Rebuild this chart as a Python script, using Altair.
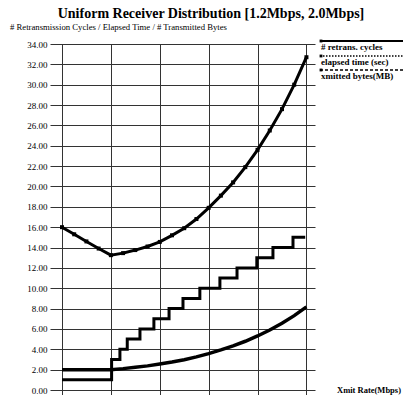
import altair as alt
import pandas as pd

# ---- data ----
rate_steps = [1.0, 1.203, 1.237, 1.267, 1.319, 1.376, 1.438, 1.495, 1.564,
              1.646, 1.716, 1.797, 1.863, 1.945, 1.995]
retrans_cycles = [1, 3, 4, 5, 6, 7, 8, 9, 10, 11, 12, 13, 14, 15, 15]

rate = [1.00, 1.05, 1.10, 1.15, 1.20, 1.25, 1.30, 1.35, 1.40, 1.45, 1.50,
        1.55, 1.60, 1.65, 1.70, 1.75, 1.80, 1.85, 1.90, 1.95, 2.00]
elapsed_sec = [16.0, 15.3, 14.6, 13.9, 13.25, 13.45, 13.75, 14.1, 14.55, 15.2,
               15.9, 16.8, 17.9, 19.1, 20.4, 21.9, 23.6, 25.5, 27.6, 30.0, 32.7]
xmitted_mb = [2.0, 2.0, 2.0, 2.0, 2.0, 2.1, 2.23, 2.37, 2.55, 2.75, 2.98,
              3.25, 3.58, 3.94, 4.34, 4.79, 5.31, 5.9, 6.56, 7.31, 8.17]

x_ticks = [1.0, 1.2, 1.4, 1.6, 1.8, 2.0]
y_ticks = [0, 2, 4, 6, 8, 10, 12, 14, 16, 18, 20, 22, 24, 26, 28, 30, 32, 34]

legend_labels = ["# retrans. cycles", "elapsed time (sec)", "xmitted bytes(MB)"]
title_text = "Uniform Receiver Distribution [1.2Mbps, 2.0Mbps]"
y_title_text = "# Retransmission Cycles / Elapsed Time / # Transmitted Bytes"
x_title_text = "Xmit Rate(Mbps)"

FONT = "Liberation Serif"

steps_df = pd.DataFrame({"rate": rate_steps, "value": retrans_cycles})
elapsed_df = pd.DataFrame({"rate": rate, "value": elapsed_sec})
bytes_df = pd.DataFrame({"rate": rate, "value": xmitted_mb})


def xenc():
    return alt.X("rate:Q",
                 scale=alt.Scale(domain=[0.951, 2.035], nice=False, zero=False),
                 axis=alt.Axis(values=x_ticks, format=".2f", title=None, grid=True,
                               ticks=True, tickSize=5, domain=False, labelPadding=0,
                               labelFontSize=8))


def yenc():
    return alt.Y("value:Q",
                 scale=alt.Scale(domain=[0, 34], nice=False),
                 axis=alt.Axis(values=y_ticks, format=".2f", title=None, grid=True,
                               ticks=False, domain=False, labelPadding=3))


steps = alt.Chart(steps_df).mark_line(
    interpolate="step-after", color="black", strokeWidth=3
).encode(x=xenc(), y=yenc())

elapsed_line = alt.Chart(elapsed_df).mark_line(
    color="black", strokeWidth=3
).encode(x=xenc(), y=yenc())

elapsed_pts = alt.Chart(elapsed_df).mark_square(
    color="black", size=16, opacity=1
).encode(x=xenc(), y=yenc())

bytes_line = alt.Chart(bytes_df).mark_line(
    color="black", strokeWidth=3.5
).encode(x=xenc(), y=yenc())

layers = [steps, elapsed_line, elapsed_pts, bytes_line]

# ---- manual legend (line above label) ----
dashes = [[1, 0], [1.5, 1.5], [3, 2]]
widths = [2, 1.5, 1.3]
line_y = [-3, 12, 26]
text_y = [6, 20.5, 35]
for i, lab in enumerate(legend_labels):
    d = pd.DataFrame({"label": [lab]})
    layers.append(
        alt.Chart(d).mark_rule(color="black", strokeWidth=widths[i],
                               strokeDash=dashes[i]).encode(
            x=alt.value(270), x2=alt.value(365),
            y=alt.value(line_y[i]), y2=alt.value(line_y[i]))
    )
    layers.append(
        alt.Chart(d).mark_square(color="black", size=8, opacity=1).encode(
            x=alt.value(271), y=alt.value(line_y[i]))
    )
    layers.append(
        alt.Chart(d).mark_text(align="left", baseline="alphabetic", font=FONT,
                               fontSize=9, fontWeight="bold", color="black").encode(
            x=alt.value(271), y=alt.value(text_y[i]), text="label:N")
    )

# ---- titles as text ----
t_df = pd.DataFrame({"t": [title_text]})
layers.append(
    alt.Chart(t_df).mark_text(align="center", baseline="alphabetic", font=FONT,
                              fontSize=14, fontWeight="bold", color="black").encode(
        x=alt.value(161), y=alt.value(-26.5), text="t:N")
)
yt_df = pd.DataFrame({"t": [y_title_text]})
layers.append(
    alt.Chart(yt_df).mark_text(align="left", baseline="alphabetic", font=FONT,
                               fontSize=8.7, color="black").encode(
        x=alt.value(-40), y=alt.value(-14.5), text="t:N")
)
xt_df = pd.DataFrame({"t": [x_title_text]})
layers.append(
    alt.Chart(xt_df).mark_text(align="right", baseline="alphabetic", font=FONT,
                               fontSize=8.5, fontWeight="bold", color="black").encode(
        x=alt.value(351), y=alt.value(349), text="t:N")
)

chart = alt.layer(*layers).properties(
    width=265, height=346,
    padding={"left": 42, "top": 36, "right": 88, "bottom": 5},
    autosize=alt.AutoSizeParams(type="none"),
    background="white",
).configure_view(stroke=None).configure_axis(
    labelFont=FONT, labelFontSize=9, labelColor="black",
    gridColor="#333333", gridWidth=1, gridOpacity=1,
    tickColor="#333333", tickWidth=1,
)

chart.save("out.html", embed_options={"renderer": "svg", "actions": False})
